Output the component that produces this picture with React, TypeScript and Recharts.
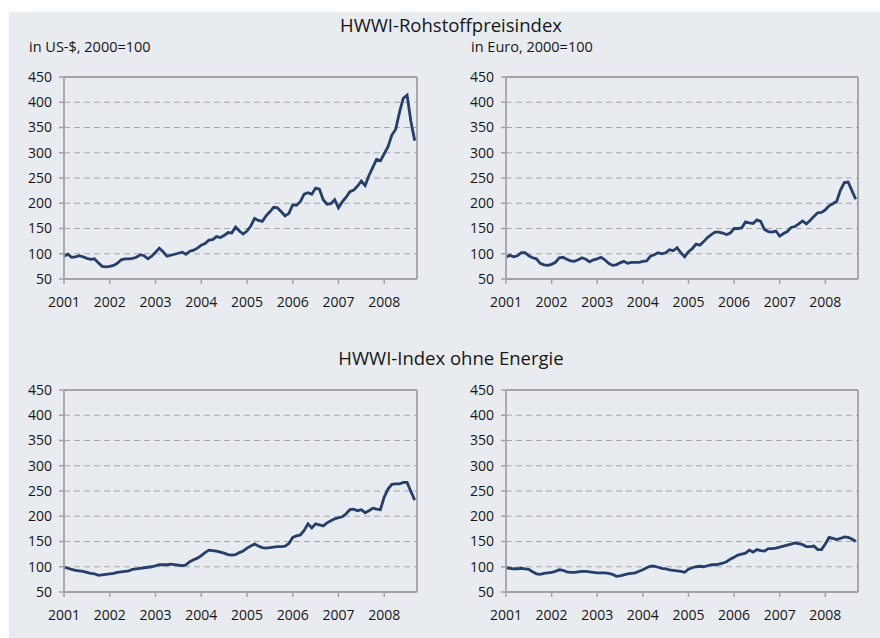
import React from 'react';
import {
  CartesianGrid,
  Line,
  LineChart,
  ReferenceLine,
  XAxis,
  YAxis,
} from 'recharts';

const YEARS = ['2001', '2002', '2003', '2004', '2005', '2006', '2007', '2008'];
const YEAR_TICKS = [0, 12, 24, 36, 48, 60, 72, 84];
const Y_TICKS = [50, 100, 150, 200, 250, 300, 350, 400, 450];
const X_END = 92.6;

// monthly, Jan 2001 .. Sep 2008
const USD = [
  95, 99, 93, 94, 96, 94, 91, 89, 90, 82, 75, 74,
  75, 77, 81, 88, 90, 90, 91, 93, 98, 96, 90, 95,
  103, 111, 104, 95, 97, 99, 101, 103, 99, 105, 107, 111,
  117, 120, 127, 128, 134, 132, 136, 142, 141, 153, 145, 139,
  145, 155, 170, 166, 164, 175, 183, 192, 191, 183, 175, 180,
  197, 196, 203, 218, 221, 218, 230, 228, 207, 198, 199, 207,
  191, 203, 212, 223, 226, 234, 244, 235, 255, 271, 287, 284,
  298, 312, 335, 346, 380, 408, 414, 362, 324,
];

const EUR = [
  93, 97, 94, 96, 102, 102, 96, 92, 90, 81, 78, 77,
  79, 83, 92, 93, 89, 86, 85, 88, 92, 89, 84, 88,
  90, 93, 88, 81, 77, 78, 82, 85, 81, 83, 83, 83,
  85, 86, 95, 98, 102, 100, 102, 108, 106, 112, 102, 94,
  104, 110, 119, 117, 124, 132, 138, 143, 143, 141, 138, 141,
  150, 150, 151, 163, 161, 160, 167, 164, 148, 144, 143, 145,
  135, 140, 144, 152, 154, 159, 165, 159, 166, 174, 181, 182,
  187, 195, 199, 204, 226, 241, 242, 225, 208,
];

const USD_EX_ENERGY = [
  99, 97, 95, 93, 92, 91, 89, 87, 86, 83, 84, 85,
  86, 87, 89, 90, 91, 92, 95, 96, 97, 98, 99, 100,
  102, 104, 104, 104, 105, 104, 103, 102, 104, 110, 114, 117,
  122, 128, 133, 132, 131, 129, 127, 124, 123, 124, 128, 131,
  137, 141, 145, 141, 138, 137, 138, 139, 140, 140, 141, 146,
  158, 161, 163, 172, 185, 177, 185, 183, 181, 187, 191, 195,
  197, 199, 205, 213, 214, 211, 213, 207, 211, 216, 214, 213,
  238, 254, 263, 264, 264, 267, 267, 249, 232,
];

const EUR_EX_ENERGY = [
  98, 97, 96, 96, 97, 96, 95, 90, 86, 85, 87, 88,
  89, 91, 94, 93, 90, 89, 89, 90, 91, 91, 90, 89,
  88, 88, 88, 87, 85, 81, 82, 84, 86, 87, 88, 91,
  94, 98, 101, 101, 99, 97, 96, 94, 93, 92, 91, 89,
  95, 98, 100, 101, 100, 102, 104, 104, 105, 107, 110, 115,
  119, 123, 125, 127, 133, 129, 134, 132, 131, 136, 136, 137,
  139, 141, 143, 145, 147, 146, 144, 140, 140, 141, 134, 134,
  145, 158, 156, 154, 156, 159, 158, 155, 150,
];

const MONTHS: string[] = [];
YEARS.forEach((y) => {
  for (let m = 1; m <= 12; m++) MONTHS.push(`${y}-${String(m).padStart(2, '0')}`);
});

const data = USD.map((v, i) => ({
  i,
  month: MONTHS[i],
  usd: v,
  eur: EUR[i],
  usdEx: USD_EX_ENERGY[i],
  eurEx: EUR_EX_ENERGY[i],
}));

const FONT = '"Open Sans", "DejaVu Sans", sans-serif';
const AXIS = '#a3a3a3';
const LINE = '#243e6e';
const BG = '#e8ebf0';
const TEXT = '#161616';

function Panel({
  dataKey,
  left,
  top,
  yWidth,
  right,
}: {
  dataKey: string;
  left: number;
  top: number;
  yWidth: number;
  right: number;
}) {
  return (
    <div style={{ position: 'absolute', left, top }}>
      <LineChart
        width={440}
        height={250}
        data={data}
        margin={{ top: 17, right, bottom: 0, left: 0 }}
      >
        <CartesianGrid
          horizontal
          vertical={false}
          stroke="#a8a8a8"
          strokeDasharray="6 4"
        />
        <XAxis
          dataKey="i"
          type="number"
          domain={[0, X_END]}
          ticks={YEAR_TICKS}
          interval={0}
          tickFormatter={(v: number) => YEARS[v / 12]}
          height={31}
          tickSize={5}
          tickMargin={13}
          axisLine={{ stroke: AXIS, strokeWidth: 1.8 }}
          tickLine={{ stroke: AXIS, strokeWidth: 1.5 }}
          tick={{ fill: TEXT, fontSize: 14, fontFamily: FONT }}
        />
        <YAxis
          type="number"
          domain={[50, 450]}
          ticks={Y_TICKS}
          interval={0}
          width={yWidth}
          tickSize={5}
          tickMargin={7}
          axisLine={{ stroke: AXIS, strokeWidth: 1.8 }}
          tickLine={{ stroke: AXIS, strokeWidth: 1.5 }}
          tick={{ fill: TEXT, fontSize: 14, fontFamily: FONT }}
        />
        <ReferenceLine y={450} stroke={AXIS} strokeWidth={1.8} />
        <ReferenceLine x={X_END} stroke={AXIS} strokeWidth={1.8} />
        <Line
          type="linear"
          dataKey={dataKey}
          stroke={LINE}
          strokeWidth={2.8}
          dot={false}
          isAnimationActive={false}
        />
      </LineChart>
    </div>
  );
}

const titleStyle: React.CSSProperties = {
  position: 'absolute',
  left: 0,
  width: 902,
  textAlign: 'center',
  fontFamily: FONT,
  fontSize: 18.5,
  color: TEXT,
  lineHeight: '20px',
};

const subStyle: React.CSSProperties = {
  position: 'absolute',
  fontFamily: FONT,
  fontSize: 14.5,
  color: TEXT,
  lineHeight: '16px',
};

export default function App() {
  return (
    <div
      style={{
        position: 'relative',
        width: 880,
        height: 638,
        background: '#fff',
        overflow: 'hidden',
      }}
    >
      <style>{'body{margin:0}'}</style>
      <div
        style={{
          position: 'absolute',
          left: 9,
          top: 12,
          right: 0,
          bottom: 0,
          background: BG,
        }}
      />
      <div style={{ ...titleStyle, top: 15 }}>HWWI-Rohstoffpreisindex</div>
      <div style={{ ...subStyle, left: 29, top: 39 }}>in US-$, 2000=100</div>
      <div style={{ ...subStyle, left: 471, top: 39 }}>in Euro, 2000=100</div>
      <div style={{ ...titleStyle, top: 348 }}>HWWI-Index ohne Energie</div>

      <Panel dataKey="usd" left={0} top={60} yWidth={64} right={23} />
      <Panel dataKey="eur" left={440} top={60} yWidth={66} right={22} />
      <Panel dataKey="usdEx" left={0} top={373} yWidth={64} right={23} />
      <Panel dataKey="eurEx" left={440} top={373} yWidth={66} right={22} />
    </div>
  );
}
